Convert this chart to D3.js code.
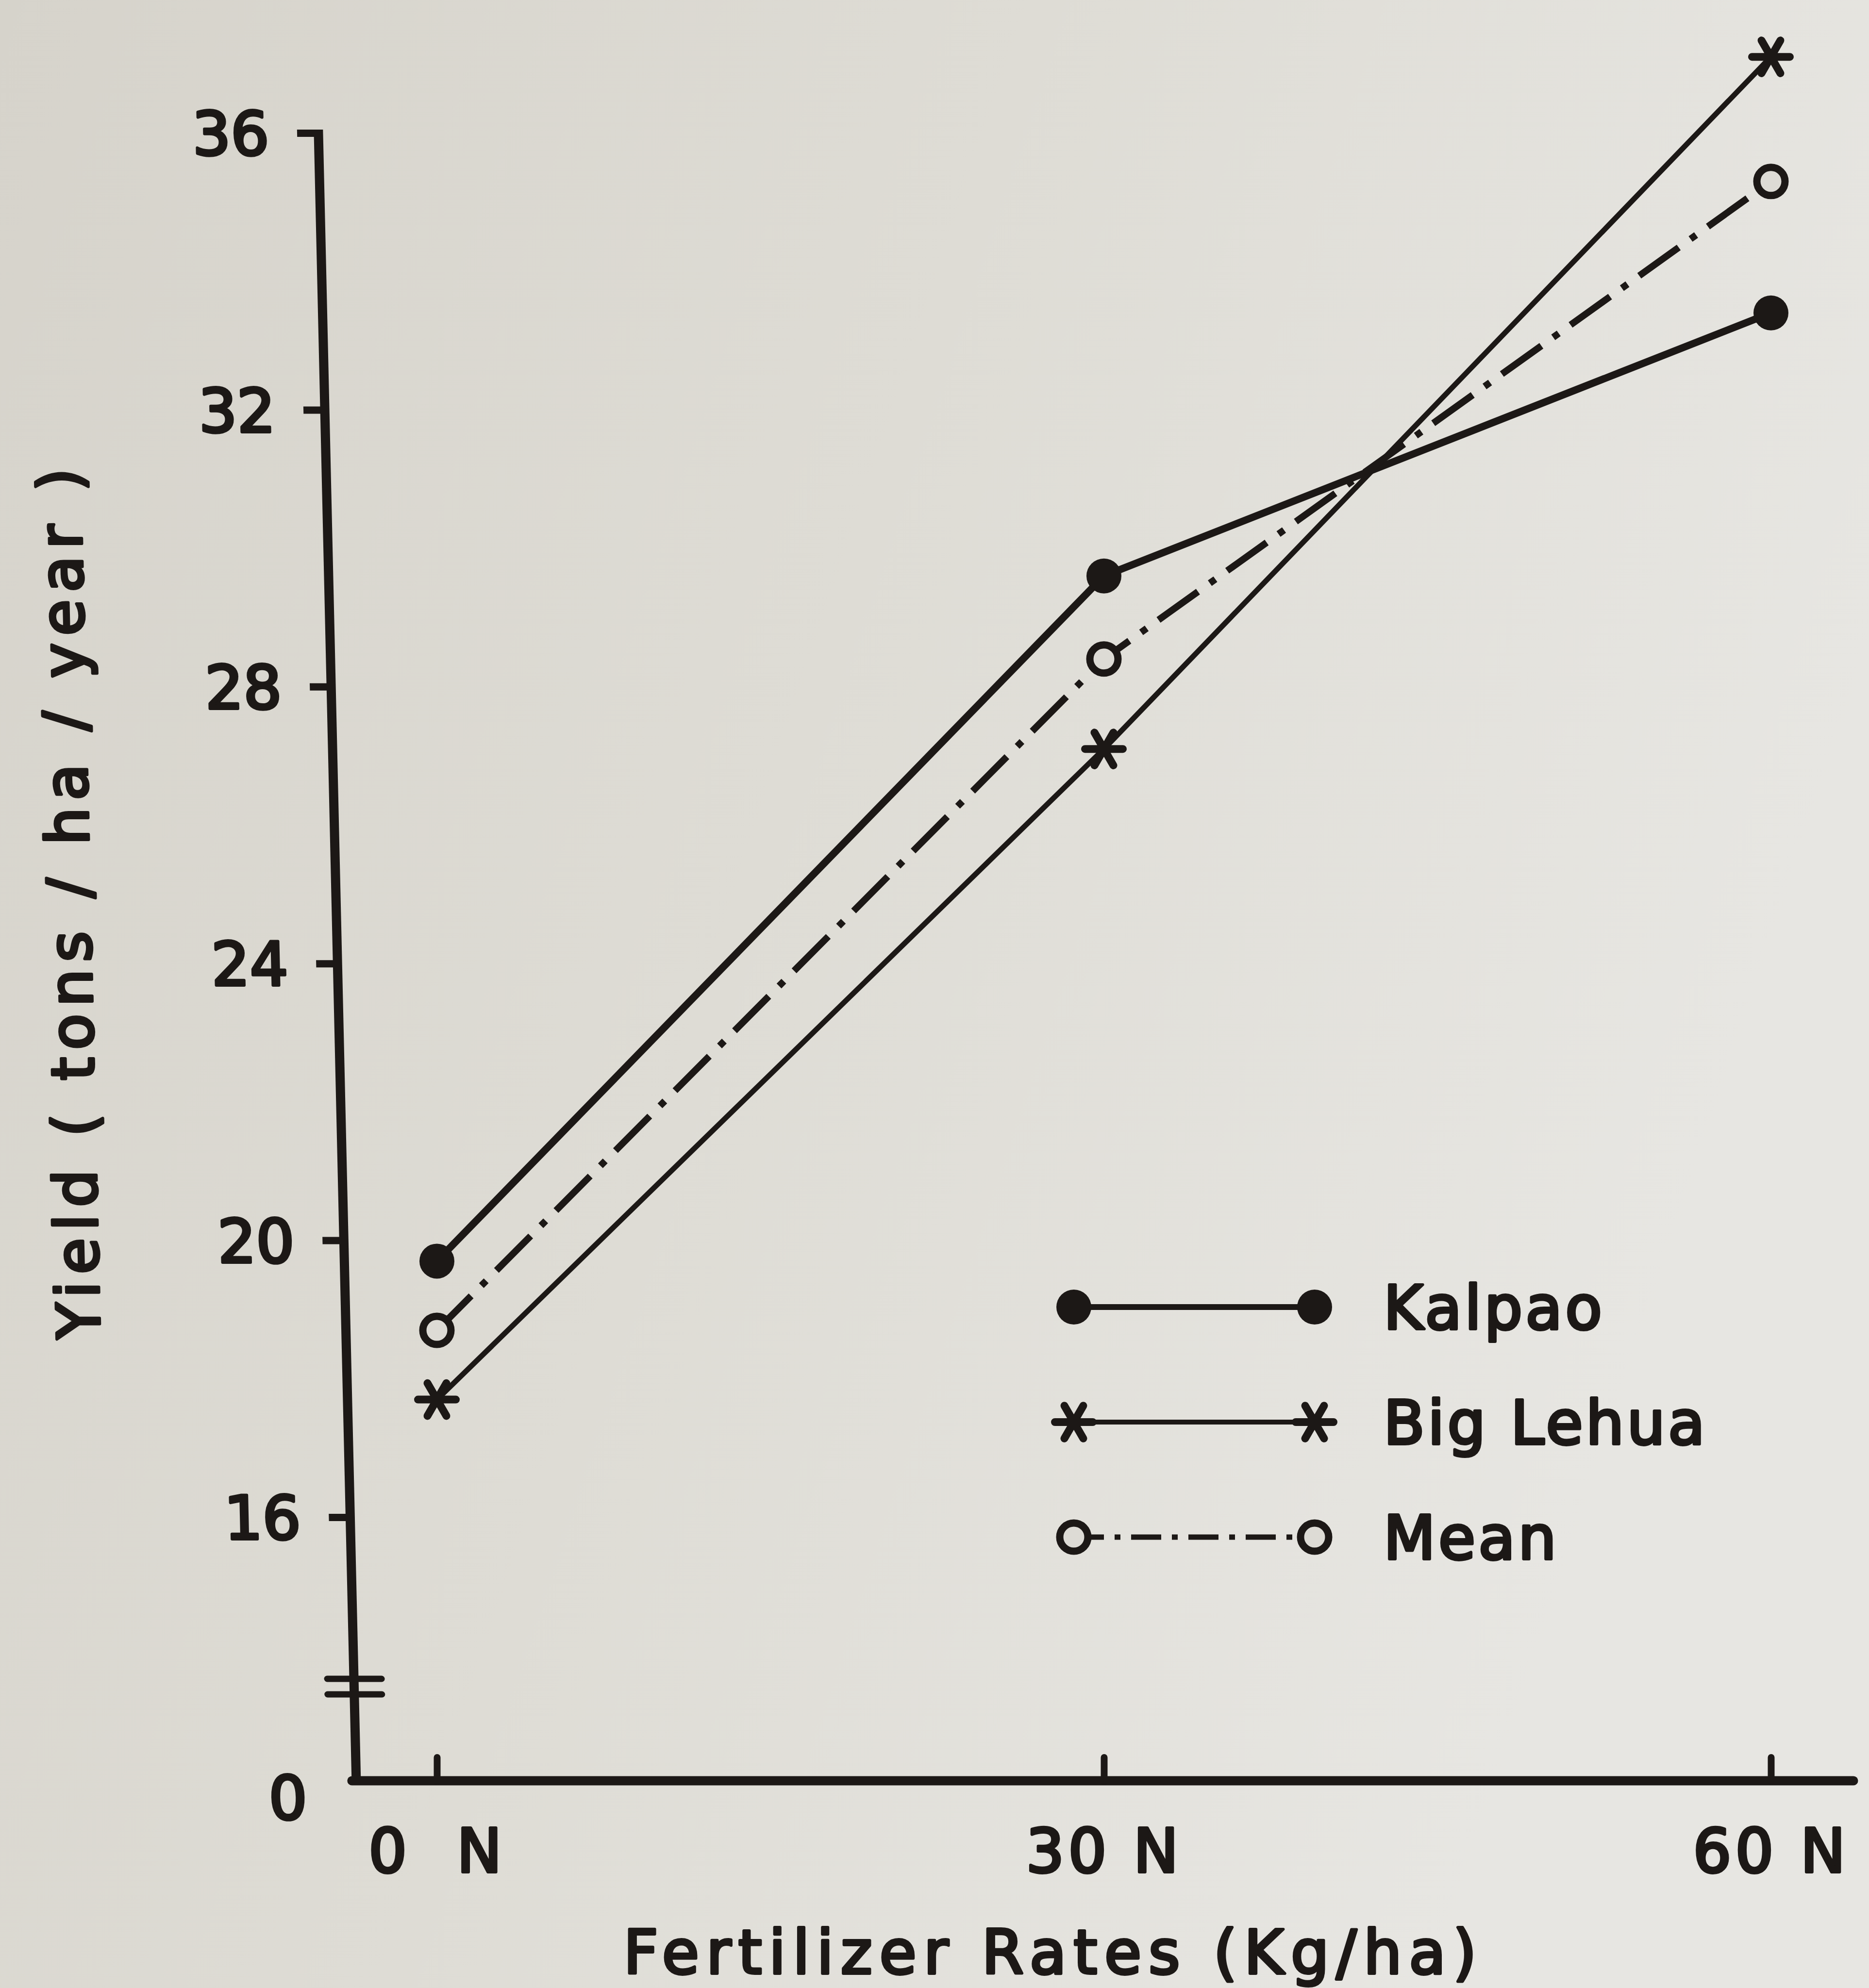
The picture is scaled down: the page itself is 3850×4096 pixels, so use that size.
<!DOCTYPE html>
<html>
<head>
<meta charset="utf-8">
<script src="https://cdn.jsdelivr.net/npm/d3@7"></script>
<style>
  html, body { margin: 0; padding: 0; background: #dcdad4; }
  svg { display: block; }
</style>
</head>
<body>
<script>
// ---------------- data ----------------
const fertilizerRates = [0, 30, 60];
const xTickLabels = ["0  N", "30 N", "60 N"];
const kalpao   = [19.7, 29.6, 33.4];
const bigLehua = [17.7, 27.1, 37.1];
const mean     = [18.7, 28.4, 35.3];
const yTicks = [16, 20, 24, 28, 32, 36];
const seriesNames = ["Kalpao", "Big Lehua", "Mean"];
const yTitle = "Yield ( tons / ha / year )";
const xTitle = "Fertilizer Rates (Kg/ha)";

// ---------------- layout / style ----------------
const W = 3850, H = 4096;
const INK = "#1c1816";
const PAPER = "#dddbd5";
const FONT = "DejaVu Sans";
const FS = 124;

const x = d3.scaleLinear().domain([0, 60]).range([900, 3648]);
const y = d3.scaleLinear().domain([16, 36]).range([3126, 274]);
const xAxisY = 3669;
const slant = 0.02294;                       // the photographed y-axis leans slightly
const skewDeg = Math.atan(slant) * 180 / Math.PI;
const axisXin = 649.7;
const cornerX = axisXin + xAxisY * slant;
const xAxisEnd = x(60) + 170;

function styleText(sel, size) {
  sel.attr("font-family", FONT)
     .attr("font-size", size)
     .attr("fill", INK)
     .attr("stroke", INK)
     .attr("stroke-width", 6)
     .attr("stroke-linejoin", "round");
  return sel;
}

const svg = d3.select("body").append("svg")
  .attr("width", W).attr("height", H)
  .attr("viewBox", `0 0 ${W} ${H}`);

const defs = svg.append("defs");
const grad = defs.append("linearGradient").attr("id", "paper")
  .attr("x1", "0").attr("y1", "0").attr("x2", "1").attr("y2", "0.35");
grad.append("stop").attr("offset", "0").attr("stop-color", "#d6d3cb");
grad.append("stop").attr("offset", "0.5").attr("stop-color", "#dedcd5");
grad.append("stop").attr("offset", "1").attr("stop-color", "#e7e6e2");
svg.append("rect").attr("width", W).attr("height", H).attr("fill", "url(#paper)");

// ---------------- y axis (slanted group) ----------------
const g = svg.append("g").attr("transform", `skewX(${skewDeg})`);

const yAxisG = g.append("g")
  .attr("transform", `translate(${axisXin},0)`)
  .call(d3.axisLeft(y).tickValues(yTicks).tickSize(44).tickPadding(58).tickFormat(d3.format("d")));
yAxisG.select(".domain").remove();
yAxisG.selectAll(".tick line").attr("stroke", INK).attr("stroke-width", 15);
styleText(yAxisG.selectAll(".tick text"), FS).attr("dy", "0.36em");

g.append("line")
  .attr("x1", axisXin).attr("x2", axisXin)
  .attr("y1", y(36) - 7).attr("y2", xAxisY + 9)
  .attr("stroke", INK).attr("stroke-width", 19);

// zero label below the break
styleText(g.append("text"), FS)
  .attr("x", axisXin - 102).attr("y", xAxisY + 34)
  .attr("dy", "0.36em").attr("text-anchor", "end")
  .text("0");

// axis break marks
[xAxisY - 210, xAxisY - 178].forEach(by => {
  g.append("line")
    .attr("x1", axisXin - 55).attr("x2", axisXin + 57)
    .attr("y1", by).attr("y2", by)
    .attr("stroke", INK).attr("stroke-width", 13).attr("stroke-linecap", "round");
});

// y title
styleText(g.append("text"), 122)
  .attr("transform", "translate(142.7,1862) rotate(-90)")
  .attr("text-anchor", "middle")
  .attr("textLength", 1794).attr("lengthAdjust", "spacing")
  .text(yTitle);

// ---------------- x axis ----------------
svg.append("line")
  .attr("x1", cornerX - 9).attr("x2", xAxisEnd)
  .attr("y1", xAxisY).attr("y2", xAxisY)
  .attr("stroke", INK).attr("stroke-width", 19).attr("stroke-linecap", "round");

const xAxisG = svg.append("g")
  .attr("transform", `translate(0,${xAxisY})`)
  .call(d3.axisBottom(x).tickValues(fertilizerRates)
    .tickSizeInner(-48).tickSizeOuter(0)
    .tickFormat((d, i) => xTickLabels[i]));
xAxisG.select(".domain").remove();
xAxisG.selectAll(".tick line").attr("stroke", INK).attr("stroke-width", 14).attr("stroke-linecap", "round");
styleText(xAxisG.selectAll(".tick text"), FS)
  .attr("y", 188).attr("dy", 0)
  .attr("letter-spacing", 8)
  .style("white-space", "pre");

styleText(svg.append("text"), FS)
  .attr("x", 2163).attr("y", 4066)
  .attr("text-anchor", "middle")
  .attr("textLength", 1757).attr("lengthAdjust", "spacing")
  .text(xTitle);

// ---------------- series ----------------
const asterisk = {
  draw(ctx, size) {
    for (let i = 0; i < 3; i++) {
      const a = i * Math.PI / 3;
      const dx = Math.cos(a) * size, dy = Math.sin(a) * size;
      ctx.moveTo(-dx, -dy);
      ctx.lineTo(dx, dy);
    }
  }
};

const seriesStyle = {
  "Kalpao":    { values: kalpao,   width: 15, dash: null,            legendWidth: 12, legendDash: null,           marker: "dot" },
  "Big Lehua": { values: bigLehua, width: 11, dash: null,            legendWidth: 10, legendDash: null,           marker: "star" },
  "Mean":      { values: mean,     width: 14, dash: "100 30 14 30",  legendWidth: 11, legendDash: "62 22 12 22",  marker: "ring" }
};

const line = d3.line()
  .x((d, i) => x(fertilizerRates[i]))
  .y(d => y(d));

const plot = svg.append("g");

function drawMarker(sel, type, cx, cy) {
  if (type === "dot") {
    sel.append("circle").attr("cx", cx).attr("cy", cy).attr("r", 36).attr("fill", INK);
  } else if (type === "ring") {
    sel.append("circle").attr("cx", cx).attr("cy", cy).attr("r", 29)
      .attr("fill", PAPER).attr("stroke", INK).attr("stroke-width", 15);
  } else {
    sel.append("path").attr("d", d3.symbol(asterisk, 39)())
      .attr("transform", `translate(${cx},${cy})`)
      .attr("fill", "none").attr("stroke", INK).attr("stroke-width", 16)
      .attr("stroke-linecap", "round");
  }
}

seriesNames.forEach(name => {
  const s = seriesStyle[name];
  plot.append("path")
    .datum(s.values)
    .attr("d", line)
    .attr("fill", "none")
    .attr("stroke", INK)
    .attr("stroke-width", s.width)
    .attr("stroke-dasharray", s.dash)
    .attr("stroke-linejoin", "round");
});
seriesNames.forEach(name => {
  const s = seriesStyle[name];
  s.values.forEach((v, i) => drawMarker(plot, s.marker, x(fertilizerRates[i]), y(v)));
});

// ---------------- legend ----------------
const legX1 = 2212, legX2 = 2708, legTextX = 2850, legY0 = 2693, legDY = 237;
const legend = svg.append("g");
seriesNames.forEach((name, i) => {
  const s = seriesStyle[name];
  const ly = legY0 + i * legDY;
  legend.append("line")
    .attr("x1", legX1).attr("x2", legX2).attr("y1", ly).attr("y2", ly)
    .attr("stroke", INK).attr("stroke-width", s.legendWidth)
    .attr("stroke-dasharray", s.legendDash);
  drawMarker(legend, s.marker, legX1, ly);
  drawMarker(legend, s.marker, legX2, ly);
  styleText(legend.append("text"), FS)
    .attr("x", legTextX).attr("y", ly)
    .attr("dy", "0.36em")
    .attr("letter-spacing", 6)
    .text(name);
});
</script>
</body>
</html>
